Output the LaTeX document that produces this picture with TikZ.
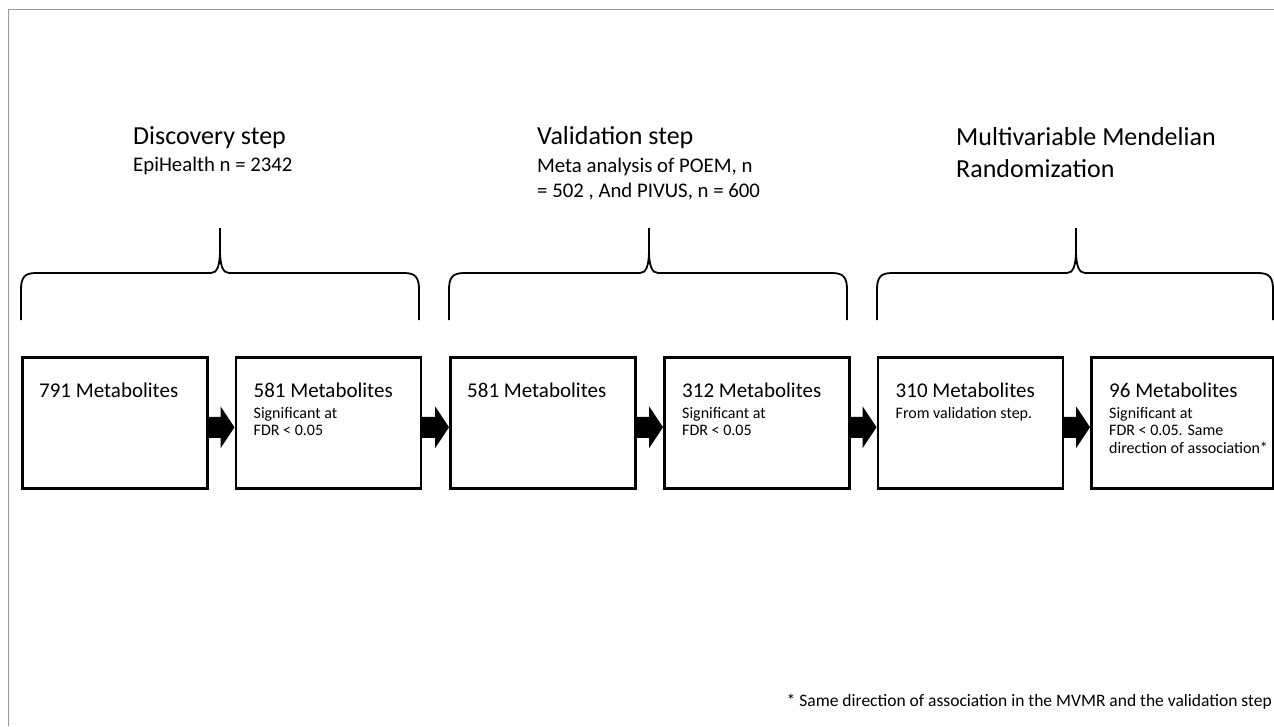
\documentclass[tikz,border=0pt]{standalone}
\usepackage{fontspec}
\setmainfont{Carlito}
\usetikzlibrary{calc}
\tikzset{
  box/.style={draw, line width=2.5pt, minimum width=185pt, minimum height=131pt, inner sep=0pt, anchor=north west},
  bracestyle/.style={line width=1.8pt, line join=round},
  frame/.style={draw=black!40, line width=1.8pt},
  head/.style={anchor=base west, inner sep=0pt, font=\fontsize{26}{31}\selectfont},
  sub/.style={anchor=base west, inner sep=0pt, font=\fontsize{20.8}{25}\selectfont},
  main/.style={anchor=base west, inner sep=0pt, font=\fontsize{21}{25}\selectfont},
  small/.style={anchor=base west, inner sep=0pt, font=\fontsize{16}{19}\selectfont},
  note/.style={anchor=base east, inner sep=0pt, font=\fontsize{17.5}{21}\selectfont}
}
\newcommand{\blockarrow}[2]{%
  \fill let \p1=(#1.east), \p2=(#2.west) in
    (\x1,\y1-4.5pt+10.5pt) -- (\x2-14pt,\y1-4.5pt+10.5pt) -- (\x2-14pt,\y1-4.5pt+21pt)
    -- (\x2,\y1-4.5pt) -- (\x2-14pt,\y1-4.5pt-21pt) -- (\x2-14pt,\y1-4.5pt-10.5pt)
    -- (\x1,\y1-4.5pt-10.5pt) -- cycle;}
\newcommand{\curlybrace}[3]{% left x, centre x, right x
  \draw[bracestyle] (#1,320) -- (#1,290) .. controls (#1,278) and (#1+3,273) .. (#1+15,273)
    -- (#2-9,273) .. controls (#2-3,273) and (#2,266) .. (#2,250) -- (#2,228);
  \draw[bracestyle] (#2,250) .. controls (#2,266) and (#2+3,273) .. (#2+9,273)
    -- (#3-15,273) .. controls (#3-3,273) and (#3,278) .. (#3,290) -- (#3,320);}
\begin{document}
\begin{tikzpicture}[x=1pt,y=-1pt]
\useasboundingbox (0,0) rectangle (1274,726);
\fill[white] (0,0) rectangle (1274,726);
\draw[frame] (8.5,726) -- (8.5,9.5) -- (1274,9.5);

% headings
\node[head] (h1) at (133,144) {Discovery step};
\node[sub] (h1a) at (133,171) {EpiHealth n = 2342};
\node[head] (h2) at (537,144) {Validation step};
\node[sub] (h2a) at (537,172) {Meta analysis of POEM, n};
\node[sub] (h2b) at (537,197) {= 502 , And PIVUS, n = 600};
\node[head] (h3) at (956,145) {Multivariable Mendelian};
\node[head] (h3a) at (956,177) {Randomization};

% braces
\curlybrace{21}{220}{419}
\curlybrace{449}{649}{847}
\curlybrace{877}{1076}{1273}

% boxes
\node[box] (b1) at (21,356) {};
\node[box] (b2) at (234.5,356) {};
\node[box] (b3) at (449,356) {};
\node[box] (b4) at (663,356) {};
\node[box] (b5) at (876.5,356) {};
\node[box, minimum width=182pt] (b6) at (1090,356) {};

% box texts
\node[main] (t1) at ($(b1.north west)+(18,41)$) {791 Metabolites};
\node[main] (t2) at ($(b2.north west)+(19,41)$) {581 Metabolites};
\node[small] (t2a) at ($(b2.north west)+(19,62)$) {Significant at};
\node[small] (t2b) at ($(b2.north west)+(19,79.5)$) {FDR < 0.05};
\node[main] (t3) at ($(b3.north west)+(18,41)$) {581 Metabolites};
\node[main] (t4) at ($(b4.north west)+(19,41)$) {312 Metabolites};
\node[small] (t4a) at ($(b4.north west)+(19,62)$) {Significant at};
\node[small] (t4b) at ($(b4.north west)+(19,79.5)$) {FDR < 0.05};
\node[main] (t5) at ($(b5.north west)+(19,41)$) {310 Metabolites};
\node[small] (t5a) at ($(b5.north west)+(19,62)$) {From validation step.};
\node[main] (t6) at ($(b6.north west)+(19,41)$) {96 Metabolites};
\node[small] (t6a) at ($(b6.north west)+(19,62)$) {Significant at};
\node[small] (t6b) at ($(b6.north west)+(19,79.5)$) {FDR < 0.05. Same};
\node[small] (t6c) at ($(b6.north west)+(19,97)$) {direction of association*};

% arrows
\blockarrow{b1}{b2}
\blockarrow{b2}{b3}
\blockarrow{b3}{b4}
\blockarrow{b4}{b5}
\blockarrow{b5}{b6}

% footnote
\node[note] (fn) at (1272,706) {* Same direction of association in the MVMR and the validation step};
\end{tikzpicture}
\end{document}
